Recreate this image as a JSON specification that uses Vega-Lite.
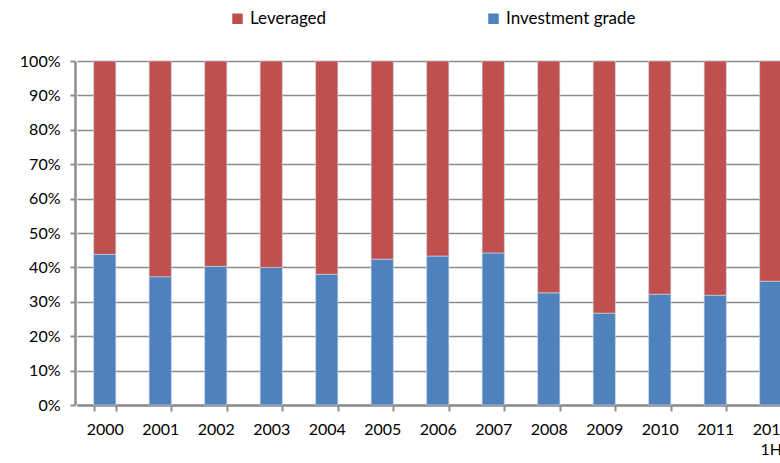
{
  "$schema": "https://vega.github.io/schema/vega-lite/v6.json",
  "autosize": "none",
  "width": 705,
  "height": 344,
  "padding": {"left": 75, "top": 61, "right": 0, "bottom": 58},
  "background": "white",
  "config": {"font": "Lato", "view": {"stroke": null}, "axisY": {"labelOverlap": false}},
  "data": {"values": [
    {"year": "2000", "type": "Investment grade", "share": 0.438, "ord": 1},
    {"year": "2000", "type": "Leveraged", "share": 0.562, "ord": 2},
    {"year": "2001", "type": "Investment grade", "share": 0.373, "ord": 1},
    {"year": "2001", "type": "Leveraged", "share": 0.627, "ord": 2},
    {"year": "2002", "type": "Investment grade", "share": 0.403, "ord": 1},
    {"year": "2002", "type": "Leveraged", "share": 0.597, "ord": 2},
    {"year": "2003", "type": "Investment grade", "share": 0.400, "ord": 1},
    {"year": "2003", "type": "Leveraged", "share": 0.600, "ord": 2},
    {"year": "2004", "type": "Investment grade", "share": 0.380, "ord": 1},
    {"year": "2004", "type": "Leveraged", "share": 0.620, "ord": 2},
    {"year": "2005", "type": "Investment grade", "share": 0.424, "ord": 1},
    {"year": "2005", "type": "Leveraged", "share": 0.576, "ord": 2},
    {"year": "2006", "type": "Investment grade", "share": 0.433, "ord": 1},
    {"year": "2006", "type": "Leveraged", "share": 0.567, "ord": 2},
    {"year": "2007", "type": "Investment grade", "share": 0.442, "ord": 1},
    {"year": "2007", "type": "Leveraged", "share": 0.558, "ord": 2},
    {"year": "2008", "type": "Investment grade", "share": 0.326, "ord": 1},
    {"year": "2008", "type": "Leveraged", "share": 0.674, "ord": 2},
    {"year": "2009", "type": "Investment grade", "share": 0.267, "ord": 1},
    {"year": "2009", "type": "Leveraged", "share": 0.733, "ord": 2},
    {"year": "2010", "type": "Investment grade", "share": 0.322, "ord": 1},
    {"year": "2010", "type": "Leveraged", "share": 0.678, "ord": 2},
    {"year": "2011", "type": "Investment grade", "share": 0.319, "ord": 1},
    {"year": "2011", "type": "Leveraged", "share": 0.681, "ord": 2},
    {"year": "2012 1H", "type": "Investment grade", "share": 0.360, "ord": 1},
    {"year": "2012 1H", "type": "Leveraged", "share": 0.640, "ord": 2}
  ]},
  "mark": {"type": "bar", "stroke": "#c8d6ea", "strokeWidth": 0.8, "strokeOpacity": 0.8},
  "encoding": {
    "x": {
      "field": "year", "type": "nominal", "sort": null,
      "scale": {"range": [2, 723.5], "paddingInner": 0.6, "paddingOuter": 0.3},
      "axis": {
        "title": null, "labelAngle": 0, "labelFontSize": 16, "labelColor": "#000000",
        "labelExpr": "split(datum.label, ' ')", "labelPadding": 10, "labelLineHeight": 20,
        "tickBand": "extent", "tickSize": 6, "tickColor": "#8c8c8c", "tickWidth": 2,
        "domainColor": "#8c8c8c", "domainWidth": 2.5, "labelBaseline": "top"
      }
    },
    "y": {
      "field": "share", "type": "quantitative", "stack": "zero",
      "scale": {"domain": [0, 1]},
      "axis": {
        "title": null, "format": ".0%", "values": [0, 0.1, 0.2, 0.3, 0.4, 0.5, 0.6, 0.7, 0.8, 0.9, 1.0],
        "labelOverlap": false,
        "labelFontSize": 16, "labelColor": "#000000", "labelPadding": 10,
        "tickSize": 5, "tickColor": "#8c8c8c", "tickWidth": 2,
        "domainColor": "#8c8c8c", "domainWidth": 2.5,
        "grid": true, "gridColor": "#8c8c8c", "gridWidth": 1.5
      }
    },
    "color": {
      "field": "type", "type": "nominal",
      "scale": {"domain": ["Leveraged", "Investment grade"], "range": ["#C0504D", "#4F81BD"]},
      "legend": {
        "title": null, "orient": "none", "direction": "horizontal",
        "legendX": 154, "legendY": -51,
        "symbolType": "square", "symbolSize": 110, "symbolStrokeWidth": 0,
        "labelFontSize": 17, "labelColor": "#000000", "labelOffset": 4,
        "columnPadding": 158
      }
    },
    "order": {"field": "ord", "type": "quantitative"}
  }
}
